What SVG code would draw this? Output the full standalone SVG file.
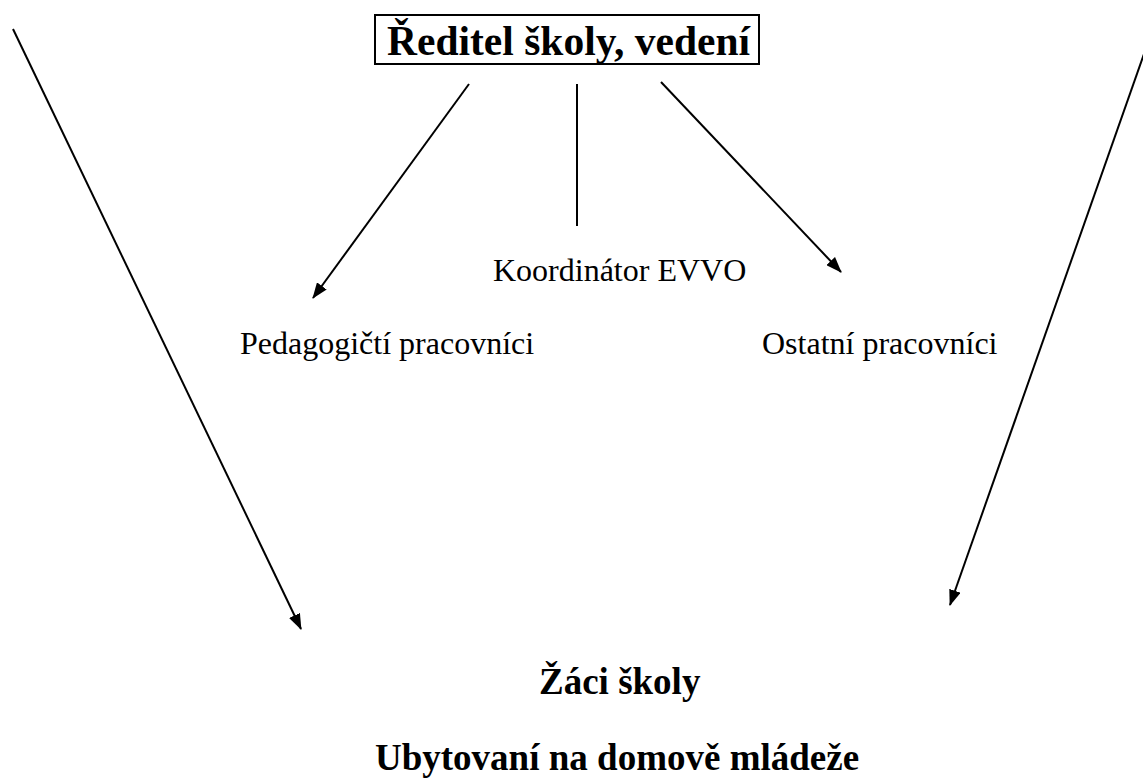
<svg xmlns="http://www.w3.org/2000/svg" width="1143" height="781" viewBox="0 0 1143 781">
<style>
.t{font-family:"Liberation Serif","Times New Roman",serif;fill:#000}
.b{font-weight:bold}
.r{font-size:32px}
.c{stroke:#000;stroke-width:2;fill:none}
</style>
<defs>
<marker id="ah" viewBox="0 0 16 12" refX="15" refY="6" markerWidth="16" markerHeight="12" markerUnits="userSpaceOnUse" orient="auto">
<path d="M0,0 L16,6 L0,12 z" fill="#000"/>
</marker>
</defs>
<rect width="1143" height="781" fill="#fff"/>
<g id="connectors">
<line class="c" x1="469" y1="84" x2="313" y2="298" marker-end="url(#ah)"/>
<line class="c" x1="577" y1="84" x2="577" y2="226"/>
<line class="c" x1="661" y1="82" x2="841" y2="272" marker-end="url(#ah)"/>
<line class="c" x1="13" y1="29" x2="301" y2="629" marker-end="url(#ah)"/>
<line class="c" x1="1144" y1="54" x2="950" y2="605" marker-end="url(#ah)"/>
</g>
<g id="reditel">
<rect x="375" y="15" width="384" height="49" fill="none" stroke="#000" stroke-width="2"/>
<text class="t b" x="387" y="55" font-size="41.5">Ředitel školy, vedení</text>
</g>
<g id="koordinator"><text class="t r" x="493" y="281">Koordinátor EVVO</text></g>
<g id="pedagogicti"><text class="t r" x="240" y="354">Pedagogičtí pracovníci</text></g>
<g id="ostatni"><text class="t r" x="762" y="354">Ostatní pracovníci</text></g>
<g id="zaci">
<text class="t b" x="539" y="694" font-size="37">Žáci školy</text>
<text class="t b" x="375" y="770" font-size="37">Ubytovaní na domově mládeže</text>
</g>
</svg>
